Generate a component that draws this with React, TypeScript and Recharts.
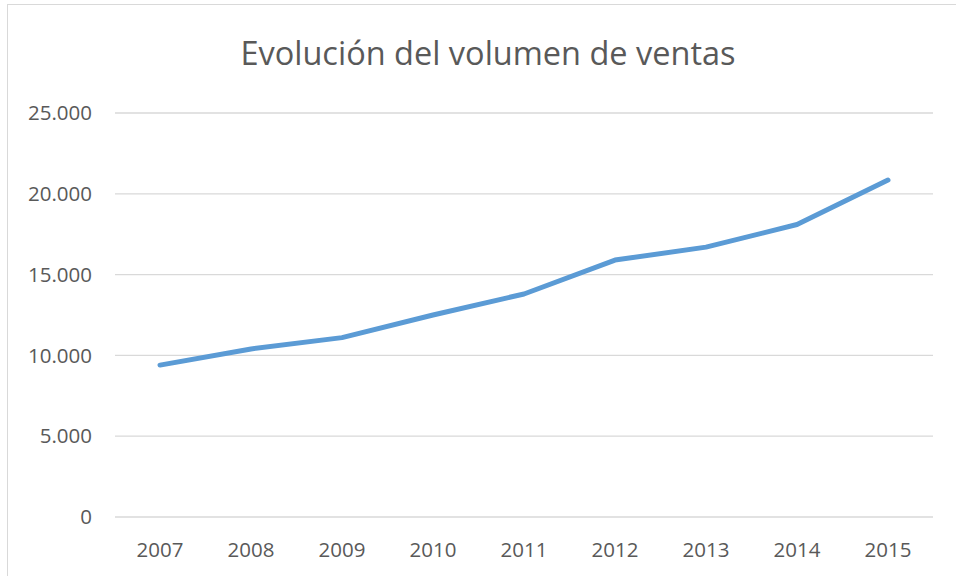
import { LineChart, Line, XAxis, YAxis, CartesianGrid } from 'recharts';

const years = ['2007', '2008', '2009', '2010', '2011', '2012', '2013', '2014', '2015'];
const ventas = [9400, 10400, 11100, 12500, 13800, 15900, 16700, 18100, 20850];
const yTicks = [0, 5000, 10000, 15000, 20000, 25000];

const data = years.map((year, i) => ({ year, ventas: ventas[i] }));

const fmt = (v: number) => String(v).replace(/\B(?=(\d{3})+(?!\d))/g, '.');

const FONT = '"Open Sans", sans-serif';
const TEXT = '#595959';

export default function App() {
  return (
    <div
      style={{
        position: 'fixed',
        left: 0,
        top: 0,
        width: 956,
        height: 576,
        overflow: 'hidden',
        background: '#fff',
        fontFamily: FONT,
      }}
    >
      <div
        style={{
          position: 'absolute',
          left: 7,
          top: 4,
          width: 990,
          height: 600,
          border: '1px solid #d9d9d9',
        }}
      />
      <div
        style={{
          position: 'absolute',
          left: 0,
          top: 28,
          width: 976,
          textAlign: 'center',
          fontSize: 32.5,
          color: TEXT,
          lineHeight: '50px',
        }}
      >
        Evolución del volumen de ventas
      </div>
      <div style={{ position: 'absolute', left: 0, top: 0 }}>
        <LineChart width={956} height={576} data={data} margin={{ top: 113, right: 23, bottom: 29, left: 55 }}>
          <CartesianGrid vertical={false} stroke="#d9d9d9" strokeWidth={1.3} />
          <XAxis
            dataKey="year"
            axisLine={false}
            tickLine={false}
            tickSize={0}
            tickMargin={25}
            height={30}
            padding={{ left: 45, right: 45 }}
            tick={{ fontSize: 20.5, fill: TEXT, fontFamily: FONT }}
          />
          <YAxis
            domain={[0, 25000]}
            ticks={yTicks}
            tickFormatter={fmt}
            axisLine={false}
            tickLine={false}
            tickSize={0}
            tickMargin={23}
            width={60}
            tick={{ fontSize: 20.5, fill: TEXT, fontFamily: FONT }}
          />
          <Line
            type="linear"
            dataKey="ventas"
            stroke="#5b9bd5"
            strokeWidth={5}
            strokeLinecap="round"
            strokeLinejoin="round"
            dot={false}
            activeDot={false}
            isAnimationActive={false}
          />
        </LineChart>
      </div>
    </div>
  );
}
